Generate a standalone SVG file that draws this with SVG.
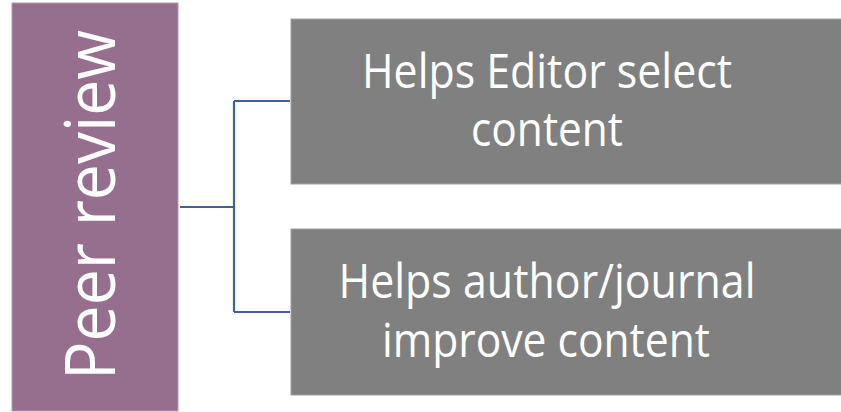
<svg xmlns="http://www.w3.org/2000/svg" width="841" height="412" viewBox="0 0 841 412">
<style>
.box{fill:#808080;stroke:#a0a0a0;stroke-width:1}
.t{fill:#ffffff;font-family:"Open Sans","Noto Sans","Liberation Sans",sans-serif;text-anchor:middle}
.c{fill:none;stroke:#3F5F9F;stroke-width:2.2}
</style>
<rect width="841" height="412" fill="#ffffff"/>
<g id="peer-review">
<rect x="12" y="3" width="166" height="408" fill="#966F8F" stroke="#b49ab0" stroke-width="1"/>
<text class="t" x="0" y="0" font-size="70" transform="translate(115 205) rotate(-90)" textLength="350" lengthAdjust="spacingAndGlyphs">Peer review</text>
</g>
<g id="connectors">
<path class="c" d="M180 207 H234 M234 101 V312 M234 101 H290 M234 312 H290"/>
</g>
<g id="editor-select">
<rect class="box" x="291" y="19" width="560" height="165"/>
<text class="t" font-size="47"><tspan x="547" y="88" textLength="370" lengthAdjust="spacingAndGlyphs">Helps Editor select</tspan><tspan x="547" y="146" textLength="152" lengthAdjust="spacingAndGlyphs">content</tspan></text>
</g>
<g id="author-improve">
<rect class="box" x="291" y="229" width="560" height="166"/>
<text class="t" font-size="47"><tspan x="547" y="298" textLength="417" lengthAdjust="spacingAndGlyphs">Helps author/journal</tspan><tspan x="546" y="357" textLength="328" lengthAdjust="spacingAndGlyphs">improve content</tspan></text>
</g>
</svg>
